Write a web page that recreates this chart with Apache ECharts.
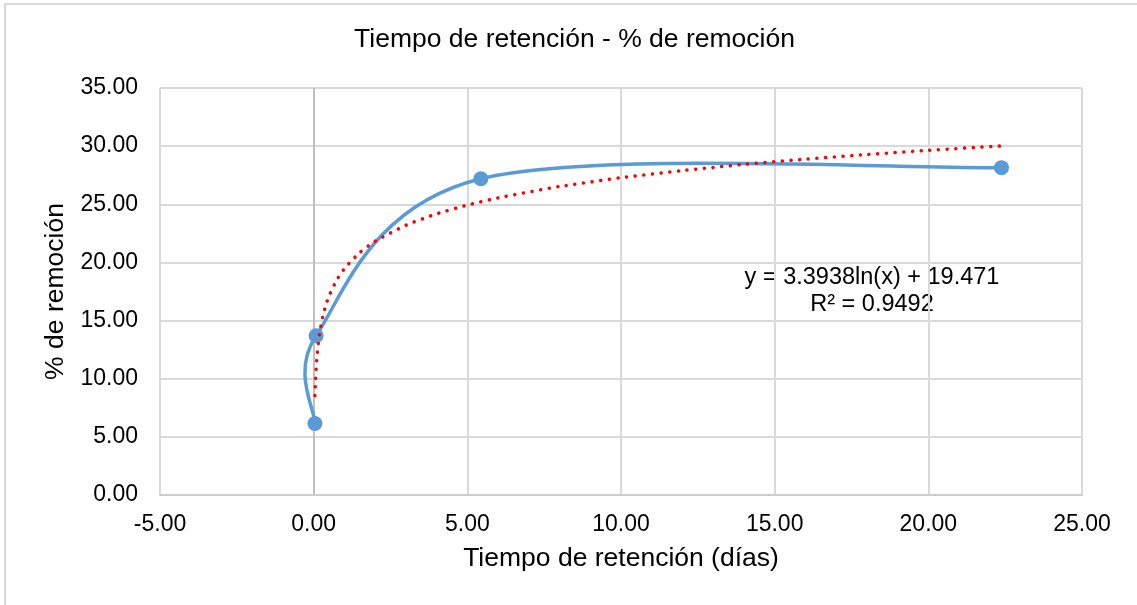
<!DOCTYPE html>
<html>
<head>
<meta charset="utf-8">
<script src="https://cdn.jsdelivr.net/npm/echarts@6/dist/echarts.min.js"></script>
<style>
html,body{margin:0;padding:0;background:#fff;}
#chart{width:1137px;height:605px;}
</style>
</head>
<body>
<div id="chart"></div>
<script>
// ---- data ----
const chartTitle = 'Tiempo de retención - % de remoción';
const xName = 'Tiempo de retención (días)';
const yName = '% de remoción';
const pointX = [0.04, 0.08, 5.44, 22.38];
const pointY = [6.15, 13.7, 27.2, 28.15];
const trendX = [0.04, 0.06, 0.08, 0.1, 0.15, 0.2, 0.3, 0.4, 0.5, 0.75, 1, 1.5, 2, 3, 4, 5, 6, 8, 10, 12, 14, 16, 18, 20, 22.38];
const trendY = [8.55, 9.92, 10.90, 11.66, 13.03, 14.01, 15.39, 16.36, 17.12, 18.49, 19.47, 20.85, 21.82, 23.20, 24.18, 24.93, 25.55, 26.53, 27.29, 27.90, 28.43, 28.88, 29.28, 29.64, 30.02];
const eqLine1 = 'y = 3.3938ln(x) + 19.471';
const eqLine2 = 'R² = 0.9492';
const xTicks = {min: -5, max: 25, interval: 5};
const yTicks = {min: 0, max: 35, interval: 5};

const FONT = "'Liberation Sans', Arial, sans-serif";
const chart = echarts.init(document.getElementById('chart'), null, {renderer: 'canvas'});

function excelSmooth(params, api) {
  if (params.dataIndex !== 0) return null;
  const P = pointX.map((x, i) => api.coord([x, pointY[i]]));
  const dist = (a, b) => Math.hypot(a[0] - b[0], a[1] - b[1]);
  const children = [];
  for (let i = 0; i < P.length - 1; i++) {
    const p0 = P[i - 1] || P[i], p1 = P[i], p2 = P[i + 1], p3 = P[i + 2] || P[i + 1];
    const d12 = dist(p1, p2), d02 = dist(p0, p2), d13 = dist(p1, p3);
    const f1 = d02 > 0 ? Math.min(1 / 6, d12 / (2 * d02)) : 0;
    const f2 = d13 > 0 ? Math.min(1 / 6, d12 / (2 * d13)) : 0;
    children.push({
      type: 'bezierCurve',
      shape: {
        x1: p1[0], y1: p1[1],
        cpx1: p1[0] + (p2[0] - p0[0]) * f1, cpy1: p1[1] + (p2[1] - p0[1]) * f1,
        cpx2: p2[0] - (p3[0] - p1[0]) * f2, cpy2: p2[1] - (p3[1] - p1[1]) * f2,
        x2: p2[0], y2: p2[1]
      },
      style: {stroke: '#5b9bd5', lineWidth: 3.5, fill: 'none', lineCap: 'round'}
    });
  }
  return {type: 'group', children: children};
}

const gridColors = ['#d9d9d9', '#bfbfbf', '#d9d9d9', '#d9d9d9', '#d9d9d9', '#d9d9d9', '#d9d9d9'];

chart.setOption({
  animation: false,
  backgroundColor: '#ffffff',
  textStyle: {fontFamily: FONT},
  grid: {left: 160, right: 55, top: 88, bottom: 110, containLabel: false, outerBoundsMode: 'none'},
  xAxis: {
    type: 'value', min: xTicks.min, max: xTicks.max, interval: xTicks.interval,
    name: xName, nameLocation: 'middle', nameGap: 50,
    nameTextStyle: {fontSize: 26.5, color: '#000', fontFamily: FONT},
    axisLine: {show: true, onZero: false, lineStyle: {color: '#cccccc', width: 2}},
    axisTick: {show: false},
    axisLabel: {fontSize: 23, color: '#000', margin: 18, fontFamily: FONT, formatter: v => v.toFixed(2)},
    splitLine: {show: true, lineStyle: {color: gridColors, width: 2}}
  },
  yAxis: {
    type: 'value', min: yTicks.min, max: yTicks.max, interval: yTicks.interval,
    name: yName, nameLocation: 'middle', nameGap: 89,
    nameTextStyle: {fontSize: 26.5, color: '#000', fontFamily: FONT},
    axisLine: {show: false},
    axisTick: {show: false},
    axisLabel: {fontSize: 23, color: '#000', margin: 22, fontFamily: FONT, formatter: v => v.toFixed(2)},
    splitLine: {show: true, lineStyle: {color: '#d9d9d9', width: 2}}
  },
  graphic: [
    {type: 'rect', silent: true, z: -10, shape: {x: 5, y: 4, width: 2000, height: 2000},
      style: {fill: 'none', stroke: '#d9d9d9', lineWidth: 2}},
    {type: 'text', silent: true, x: 574.5, y: 40,
      style: {text: chartTitle, font: "26.5px " + FONT, fill: '#000', align: 'center', verticalAlign: 'middle'}},
    {type: 'text', silent: true, x: 872, y: 278,
      style: {text: eqLine1, font: "23.5px " + FONT, fill: '#000', align: 'center', verticalAlign: 'middle'}},
    {type: 'text', silent: true, x: 872, y: 305,
      style: {text: eqLine2, font: "23.5px " + FONT, fill: '#000', align: 'center', verticalAlign: 'middle'}}
  ],
  series: [
    {
      type: 'custom',
      renderItem: excelSmooth,
      data: pointX.map((x, i) => [x, pointY[i]]),
      silent: true,
      z: 2
    },
    {
      type: 'scatter',
      data: pointX.map((x, i) => [x, pointY[i]]),
      symbol: 'circle', symbolSize: 15,
      itemStyle: {color: '#5b9bd5', opacity: 1},
      z: 3
    },
    {
      type: 'line',
      data: trendX.map((x, i) => [x, trendY[i]]),
      showSymbol: false, symbol: 'none',
      smooth: 0.2,
      lineStyle: {color: '#ff0000', width: 3.5, type: [0.1, 8.6], cap: 'round'},
      z: 4
    }
  ]
});
</script>
</body>
</html>
